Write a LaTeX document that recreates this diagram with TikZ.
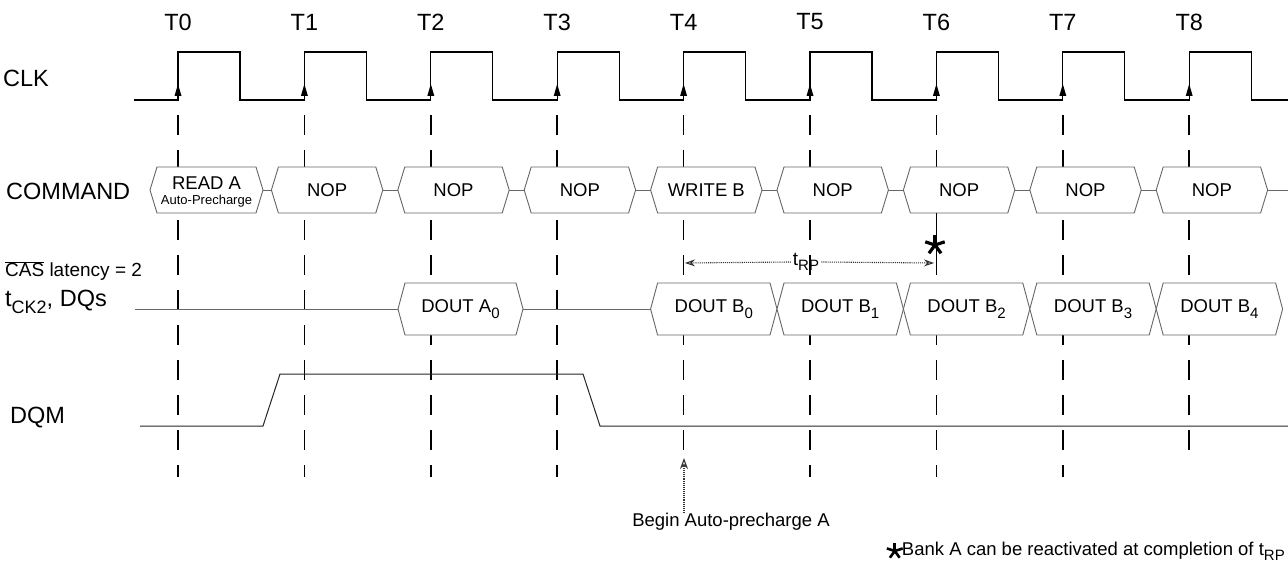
\documentclass[tikz,border=0pt]{standalone}
\usepackage{fontspec}
\setmainfont{Liberation Sans}
\usetikzlibrary{arrows.meta}
\newcommand{\fs}[1]{\fontsize{#1pt}{#1pt}\selectfont}
\newcommand{\lo}[2]{\raisebox{-0.55ex}{\fs{#1}#2}}
\newcommand{\hexbox}[4]{\pgfmathsetmacro\hL{#1}\pgfmathsetmacro\hR{#2}%
  \filldraw[boxline] (\hL,#3) -- ({\hL+7},{#3-#4}) -- ({\hR-7},{#3-#4}) -- (\hR,#3) -- ({\hR-7},{#3+#4}) -- ({\hL+7},{#3+#4}) -- cycle;}
\begin{document}
\begin{tikzpicture}[x=1pt,y=-1pt,
  clock/.style={line width=1.3pt, line join=miter},
  vdash/.style={line width=1.5pt, dash pattern=on 20pt off 15pt},
  boxline/.style={draw=black!60, fill=white, line width=0.9pt},
  wire/.style={draw=black!60, line width=0.9pt},
  sig/.style={draw=black!85, line width=1pt},
  lbl/.style={anchor=west, inner sep=0pt, font=\fs{23.5}},
  tlbl/.style={inner sep=0pt, font=\fs{23.5}},
  btxt/.style={inner sep=0pt, font=\fs{18.5}},
  dotline/.style={densely dotted, draw=black!80, line width=1.1pt},
  astk/.pic={\foreach \a in {90,162,234,306,18} \draw[line width=#1, line cap=butt] (0,0) -- (\a:{3.2*#1});},
]
\fill[white] (0,0) rectangle (1288,567);
\useasboundingbox (0,0) rectangle (1288,567);

% time labels
\foreach \k in {0,...,8} \node[tlbl] (t\k) at ({178+126.4*\k},22) {T\k};

% row labels
\node[lbl] (clk) at (3,78) {CLK};
\node[lbl] (cmd) at (6,191) {COMMAND};
\node[lbl, font=\fs{19}] (cas) at (5,271) {$\overline{\mbox{CAS}}$ latency = 2};
\node[lbl] (dqs) at (5,302) {t\lo{18}{CK2}, DQs};
\node[lbl] (dqm) at (10,418) {DQM};

% clock
\draw[clock] (134,100) \foreach \k in {0,...,8} { -- ({178+126.4*\k},100) -- ({178+126.4*\k},52) -- ({240+126.4*\k},52) -- ({240+126.4*\k},100) } -- (1288,100);
\foreach \k in {0,...,8} \fill ({178+126.4*\k},84) -- ++(-3.5,12) -- ++(7,0) -- cycle;

% dashed time lines
\foreach \k/\ye in {0/477,1/477,2/477,3/477,4/452,5/477,6/477,7/477,8/452}
  \draw[vdash] ({178+126.4*\k},115) -- ({178+126.4*\k},\ye);

% command bus
\draw[wire] (263,190) -- (271.4,190);
\foreach \k in {1,...,7} \draw[wire] ({126.4*\k+256.4},190) -- ({126.4*\k+271.4},190);
\draw[wire] (1267.6,190) -- (1288,190);
\hexbox{150}{263}{190}{23}
\foreach \k in {1,...,8} {\hexbox{126.4*\k+145}{126.4*\k+256.4}{190}{23}}
\node[btxt] (c0) at (206.5,183) {READ A};
\node[inner sep=0pt, font=\fs{13}] (c0b) at (206.5,201) {Auto-Precharge};
\node[btxt] (c1) at (327.1,190) {NOP};
\node[btxt] (c2) at (453.5,190) {NOP};
\node[btxt] (c3) at (579.9,190) {NOP};
\node[btxt] (c4) at (706.3,190) {WRITE B};
\node[btxt] (c5) at (832.7,190) {NOP};
\node[btxt] (c6) at (959.1,190) {NOP};
\node[btxt] (c7) at (1085.5,190) {NOP};
\node[btxt] (c8) at (1211.9,190) {NOP};

% data bus
\draw[wire] (135,309) -- (398,309);
\draw[wire] (523,309) -- (650.6,309);
\hexbox{398}{523}{309}{26}
\foreach \k in {0,...,4} {\hexbox{126.4*\k+650.6}{126.4*\k+777}{309}{26}}
\node[btxt] (d0) at (460.5,309) {DOUT A\lo{15}{0}};
\node[btxt] (b0) at (713.8,309) {DOUT B\lo{15}{0}};
\node[btxt] (b1) at (840.2,309) {DOUT B\lo{15}{1}};
\node[btxt] (b2) at (966.6,309) {DOUT B\lo{15}{2}};
\node[btxt] (b3) at (1093,309) {DOUT B\lo{15}{3}};
\node[btxt] (b4) at (1219.4,309) {DOUT B\lo{15}{4}};

% DQM
\draw[sig] (140,426) -- (263,426) -- (280,374) -- (583,374) -- (600,426) -- (1288,426);

% tRP
\draw[line width=1.5pt] (936.4,213) -- (936.4,272);
\coordinate (p4) at (685,263);
\coordinate (p6) at (934,263);
\node[inner sep=2pt, font=\fs{19}] (trp) at (806,262) {t\lo{15}{RP}};
\draw[dotline, {Stealth[open, length=10pt, width=7pt]}-] (p4) -- (trp.west);
\draw[dotline, -{Stealth[open, length=10pt, width=7pt]}] (trp.east) -- (p6);
\pic at (935,245) {astk=3.2pt};

% notes
\node[btxt] (begin) at (731,522) {Begin Auto-precharge A};
\coordinate (a4) at (684,458);
\draw[dotline, -{Stealth[open, length=11pt, width=8pt]}] (a4 |- begin.north) -- (a4);
\node[btxt, anchor=east] (note) at (1285,551) {Bank A can be reactivated at completion of t\lo{15}{RP}};
\pic at ([xshift=-7pt]note.west) {astk=2.6pt};
\end{tikzpicture}
\end{document}
